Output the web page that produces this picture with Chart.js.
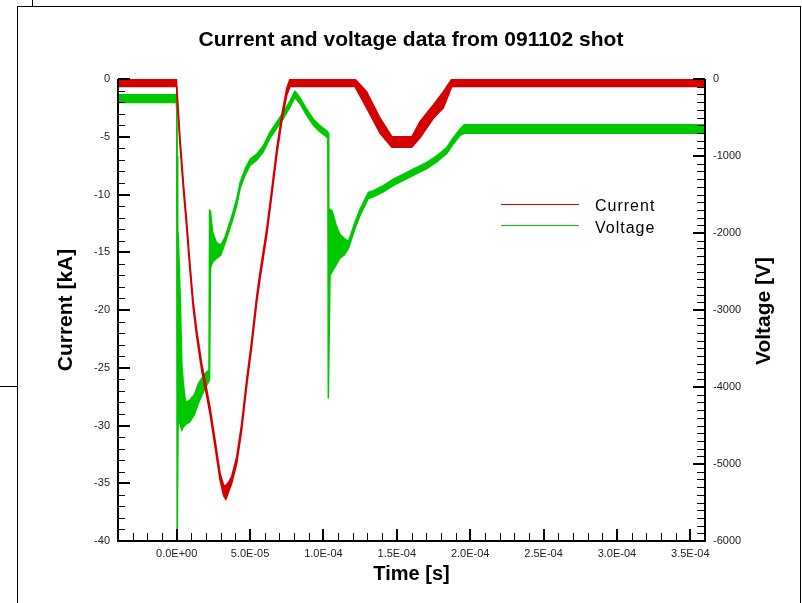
<!DOCTYPE html>
<html>
<head>
<meta charset="utf-8">
<title>Current and voltage data from 091102 shot</title>
<script src="https://cdn.jsdelivr.net/npm/chart.js@4.4.1/dist/chart.umd.min.js"></script>
<style>
  html, body { margin: 0; padding: 0; background: #fff; overflow: hidden; }
  #wrap { position: relative; width: 802px; height: 603px; }
  #wrap canvas { position: absolute; left: 0; top: 0; }
  .frame { position: absolute; left: 17px; top: 6px; width: 782px; height: 620px; border: 1px solid #000; border-bottom: none; }
  .vl { position: absolute; left: 32px; top: 0; width: 1px; height: 6px; background: #000; }
  .hl { position: absolute; left: 0; top: 386px; width: 17px; height: 1px; background: #000; }
</style>
</head>
<body>
<div id="wrap">
  <div class="frame"></div>
  <div class="vl"></div>
  <div class="hl"></div>
  <canvas id="shot"></canvas>
</div>
<script>
// time in microseconds, current in kA (upper / lower edge of the noisy trace)
const currentTime = [-40, -0.2, 0, 0.3, 2.25, 4.5, 6.8, 9.1, 11.3, 13.6, 17.0, 20.5, 22.7, 26.1, 29.5, 32.0, 33.5, 35.5,
  37.5, 40.9, 44.3, 47.7, 51.1, 54.5, 56.8, 61.4, 64.8, 68.2, 71.6, 75.0, 77.2, 121.4, 129.4, 138.6, 146.6, 160.2,
  165.8, 174.9, 181.7, 187.5, 360];
const currentHigh = [0, 0, 0, -1.1, -5.1, -8.9, -12.3, -16.1, -19.3, -21.7, -24.6, -26.9, -28.4, -31.2, -34.1, -35.2, -35.2, -34.9,
  -34.4, -32.7, -29.8, -26.0, -22.6, -18.8, -16.7, -12.9, -9.5, -6.0, -3.1, -0.8, 0, 0, -1.1, -3.4, -5.0, -5.0,
  -3.7, -2.25, -1.1, 0, 0];
const currentLow = [-0.65, -0.65, -0.8, -1.7, -5.7, -9.5, -12.9, -16.7, -19.9, -22.3, -25.2, -27.5, -29.0, -31.8, -34.7, -36.1, -36.4, -35.7,
  -35.0, -33.3, -30.4, -26.6, -23.2, -19.4, -17.3, -13.5, -10.1, -6.6, -3.7, -1.4, -0.65, -0.65, -2.5, -4.7, -5.9, -5.9,
  -5.1, -3.4, -2.5, -0.65, -0.65];

// time in microseconds, voltage in V (upper / lower edge)
const voltageTime = [-40, -0.3, 0, 0.3, 0.7, 1.0, 2.5, 3.5, 4.5, 6.0, 9.0, 12.0, 15.0, 19.0, 22.0, 22.4, 23.0, 24.5,
  27.0, 30.0, 33.0, 37.7, 40.9, 43.2, 46.6, 50.0, 54.5, 59.0, 63.4, 68.0, 72.5, 77.2, 80.6, 84.0, 88.6, 93.1, 97.7,
  102.2, 103.0, 103.3, 103.6, 104.5, 106.0, 108.5, 111.0, 114.0, 117.0, 121.5, 125.0, 128.4, 130.6, 134.0, 140.8,
  147.7, 156.8, 163.6, 170.4, 177.2, 184.0, 188.6, 193.1, 196.0, 360];
const voltageHigh = [-205, -205, -260, -1000, -2000, -2000, -2900, -3700, -3950, -4200, -4170, -4100, -3950, -3830, -3780, -1707, -1720, -1990,
  -2120, -2160, -2050, -1774, -1559, -1343, -1170, -1041, -976, -867, -695, -565, -436, -284, -160, -241, -393, -522, -608,
  -673, -690, -700, -1690, -1690, -1720, -1890, -2010, -2070, -2110, -1861, -1689, -1559, -1472, -1450, -1386,
  -1300, -1213, -1148, -1084, -997, -889, -760, -650, -595, -595];
const voltageLow = [-305, -305, -400, -6000, -6000, -4400, -4500, -4560, -4520, -4490, -4450, -4360, -4200, -4030, -3920, -3900, -2450, -2380,
  -2330, -2290, -2130, -1854, -1639, -1423, -1250, -1121, -1056, -947, -775, -645, -516, -364, -240, -321, -473, -602, -688,
  -753, -770, -4150, -4150, -2550, -2500, -2420, -2330, -2290, -2200, -1941, -1769, -1639, -1552, -1530, -1466,
  -1380, -1293, -1228, -1164, -1077, -969, -840, -730, -705, -705];

const timeTicks = [0, 5e-5, 1e-4, 1.5e-4, 2e-4, 2.5e-4, 3e-4, 3.5e-4];
const timeTickLabels = ['0.0E+00', '5.0E-05', '1.0E-04', '1.5E-04', '2.0E-04', '2.5E-04', '3.0E-04', '3.5E-04'];
const currentTicks = [0, -5, -10, -15, -20, -25, -30, -35, -40];
const voltageTicks = [0, -1000, -2000, -3000, -4000, -5000, -6000];

const RED = '#d40000';
const GREEN = '#00c800';
const FONT = "'Liberation Sans', Arial, sans-serif";

function pts(times, vals) {
    return times.map((t, i) => ({ x: t * 1e-6, y: vals[i] }));
}

// inward tick marks, axis lines, legend and right title
const tecplotLook = {
    id: 'tecplotLook',
    afterDatasetsDraw(chart) {
        const { ctx, chartArea: a, scales } = chart;
        ctx.save();
        ctx.strokeStyle = '#000';

        const tick = (x1, y1, x2, y2, w) => {
            ctx.lineWidth = w;
            ctx.beginPath();
            ctx.moveTo(x1, y1);
            ctx.lineTo(x2, y2);
            ctx.stroke();
        };

        for (let i = -3; i <= 35; i++) {
            const x = Math.round(scales.x.getPixelForValue(i * 1e-5));
            const major = i % 5 === 0;
            tick(major ? x : x + 0.5, a.bottom, major ? x : x + 0.5, a.bottom - (major ? 12 : 8), major ? 2 : 1);
        }
        for (let i = 0; i <= 40; i++) {
            const y = Math.round(scales.y.getPixelForValue(-i));
            const major = i % 5 === 0;
            tick(a.left, major ? y : y + 0.5, a.left + (major ? 12 : 7), major ? y : y + 0.5, major ? 2 : 1);
        }
        for (let i = 0; i <= 60; i++) {
            const y = Math.round(scales.y1.getPixelForValue(-i * 100));
            const major = i % 10 === 0;
            tick(a.right, major ? y : y + 0.5, a.right - (major ? 12 : 8), major ? y : y + 0.5, major ? 2 : 1);
        }

        ctx.lineWidth = 2;
        ctx.beginPath();
        ctx.moveTo(a.left, a.top);
        ctx.lineTo(a.left, a.bottom);
        ctx.lineTo(a.right, a.bottom);
        ctx.lineTo(a.right, a.top);
        ctx.stroke();
        ctx.restore();
    },
    afterDraw(chart) {
        const { ctx, chartArea: a } = chart;
        ctx.save();

        // legend
        const rows = [
            { ds: chart.data.datasets[0], y: 204.5, base: 211 },
            { ds: chart.data.datasets[2], y: 225.5, base: 233 }
        ];
        ctx.font = '16px ' + FONT;
        ctx.letterSpacing = '1px';
        ctx.textBaseline = 'alphabetic';
        ctx.fillStyle = '#000';
        rows.forEach(r => {
            ctx.strokeStyle = r.ds.borderColor;
            ctx.lineWidth = 1;
            ctx.beginPath();
            ctx.moveTo(501, r.y);
            ctx.lineTo(579, r.y);
            ctx.stroke();
            ctx.fillText(r.ds.label, 595, r.base);
        });
        ctx.letterSpacing = '0px';

        // right axis title, reading bottom to top like the left one
        ctx.translate(764.5, (a.top + a.bottom) / 2 + 1);
        ctx.rotate(-Math.PI / 2);
        ctx.font = 'bold 21px ' + FONT;
        ctx.textAlign = 'center';
        ctx.textBaseline = 'middle';
        ctx.fillText('Voltage [V]', 0, 0);
        ctx.restore();
    }
};

const tickFont = { family: FONT, size: 11 };

new Chart(document.getElementById('shot'), {
    type: 'line',
    data: {
        datasets: [
            { label: 'Current', data: pts(currentTime, currentHigh), yAxisID: 'y',
              borderColor: RED, borderWidth: 1.5, pointRadius: 0, fill: false },
            { label: 'Current (low)', data: pts(currentTime, currentLow), yAxisID: 'y',
              borderColor: RED, backgroundColor: RED, borderWidth: 1.5, pointRadius: 0, fill: '-1' },
            { label: 'Voltage', data: pts(voltageTime, voltageHigh), yAxisID: 'y1',
              borderColor: GREEN, borderWidth: 1.5, pointRadius: 0, fill: false },
            { label: 'Voltage (low)', data: pts(voltageTime, voltageLow), yAxisID: 'y1',
              borderColor: GREEN, backgroundColor: GREEN, borderWidth: 1.5, pointRadius: 0, fill: '-1' }
        ]
    },
    options: {
        responsive: true,
        maintainAspectRatio: false,
        animation: false,
        layout: { padding: { left: 20, right: 0, top: 0, bottom: 0 } },
        elements: { line: { tension: 0 } },
        scales: {
            x: {
                type: 'linear',
                min: -4e-5,
                max: 3.6e-4,
                grid: { display: false, drawTicks: false },
                border: { display: false },
                afterBuildTicks: s => { s.ticks = timeTicks.map(v => ({ value: v })); },
                afterFit: s => { s.height = 62; },
                ticks: {
                    font: tickFont, color: '#222', padding: 6, maxRotation: 0, autoSkip: false,
                    callback: (v, i) => timeTickLabels[i]
                },
                title: { display: true, text: 'Time [s]', color: '#000',
                         font: { family: FONT, size: 20, weight: 'bold' }, padding: { top: 0, bottom: 17 } }
            },
            y: {
                position: 'left',
                min: -40,
                max: 0,
                grid: { display: false, drawTicks: false },
                border: { display: false },
                afterBuildTicks: s => { s.ticks = currentTicks.map(v => ({ value: v })); },
                afterFit: s => { s.width = 98; },
                ticks: { font: tickFont, color: '#222', padding: 8, callback: v => String(v) },
                title: { display: true, text: 'Current [kA]', color: '#000',
                         font: { family: FONT, size: 21, weight: 'bold' }, padding: { top: 34, bottom: 0 } }
            },
            y1: {
                position: 'right',
                min: -6000,
                max: 0,
                grid: { display: false, drawTicks: false },
                border: { display: false },
                afterBuildTicks: s => { s.ticks = voltageTicks.map(v => ({ value: v })); },
                afterFit: s => { s.width = 97; },
                ticks: { font: tickFont, color: '#222', padding: 8, callback: v => String(v) }
            }
        },
        plugins: {
            legend: { display: false },
            tooltip: { enabled: false },
            title: {
                display: true,
                text: 'Current and voltage data from 091102 shot',
                color: '#000',
                font: { family: FONT, size: 21, weight: 'bold' },
                padding: { top: 27.4, bottom: 26.4 }
            }
        }
    },
    plugins: [tecplotLook]
});
</script>
</body>
</html>
